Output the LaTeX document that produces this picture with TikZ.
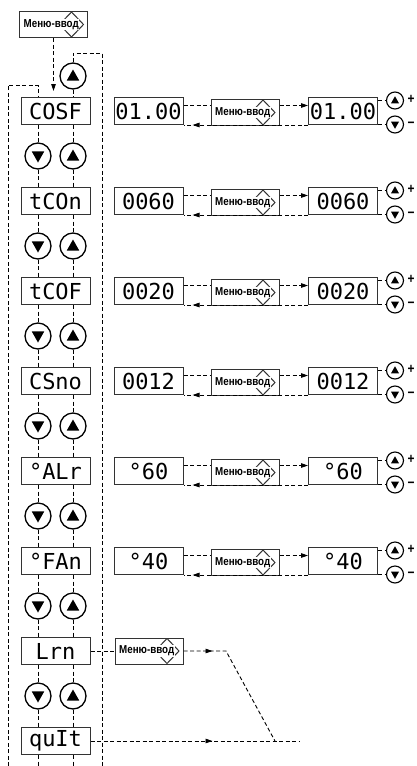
\documentclass[tikz,border=0pt]{standalone}
\usepackage{fontspec}
\usetikzlibrary{arrows.meta}
\usetikzlibrary{calc}
\usetikzlibrary{decorations.markings}
\newfontfamily\segfont{DejaVu Sans Mono}
\newfontfamily\keyfont[FakeStretch=0.85]{Liberation Sans}

\tikzset{
  link/.style={line width=0.9pt, dash pattern=on 4pt off 2.5pt},
  arr/.style={-{Triangle[length=7pt,width=4.5pt]}},
  midarrow/.style={postaction={decorate}, decoration={markings, mark=at position #1 with {\arrow{Triangle[length=7pt,width=4.5pt]}}}},
  disp/.style={draw=black!80, line width=1pt, minimum width=69pt, minimum height=27pt, inner sep=0pt,
    font=\segfont\fontsize{22}{22}\selectfont},
  menu/.style={draw=black!80, line width=1pt, minimum width=68pt, minimum height=26pt, inner sep=0pt,
    path picture={\draw[line width=1pt] ([xshift=-16pt,yshift=12.5pt]path picture bounding box.east)
      -- ([xshift=-4pt]path picture bounding box.east) -- ([xshift=-16pt,yshift=-12.5pt]path picture bounding box.east)
      -- ([xshift=-28pt]path picture bounding box.east) -- cycle;},
    label={[anchor=west, xshift=4pt, fill=white, inner sep=0.5pt, font=\keyfont\bfseries\fontsize{11.5}{12}\selectfont]west:Меню-ввод}},
  btnup/.style={circle, draw, line width=1.3pt, minimum size=2*#1, inner sep=0pt,
    path picture={\fill ([yshift=0.5*#1]path picture bounding box.center)
      -- ([xshift=-0.48*#1,yshift=-0.35*#1]path picture bounding box.center)
      -- ([xshift=0.48*#1,yshift=-0.35*#1]path picture bounding box.center) -- cycle;}},
  btndn/.style={circle, draw, line width=1.3pt, minimum size=2*#1, inner sep=0pt,
    path picture={\fill ([yshift=-0.5*#1]path picture bounding box.center)
      -- ([xshift=-0.48*#1,yshift=0.35*#1]path picture bounding box.center)
      -- ([xshift=0.48*#1,yshift=0.35*#1]path picture bounding box.center) -- cycle;}},
  pm/.style={inner sep=0pt, font=\keyfont\bfseries\fontsize{14}{14}\selectfont}
}

\begin{document}
\begin{tikzpicture}[x=1pt,y=-1pt]
\useasboundingbox (0,0) rectangle (417,766);

\node[menu] (enter) at (53.5,24.5) {};
\node[btnup=13pt] (up0) at (73,76) {};
\node[disp] (cosf) at (55.5,111) {COSF};
\node[disp] (tcon) at (55.5,201) {tCOn};
\node[disp] (tcof) at (55.5,291) {tCOF};
\node[disp] (csno) at (55.5,381) {CSno};
\node[disp] (alr) at (55.5,471) {°ALr};
\node[disp] (fan) at (55.5,561) {°FAn};
\node[disp] (lrn) at (55.5,651) {Lrn};
\node[disp] (quit) at (55.5,741) {quIt};

\foreach \pa/\pb/\k in {cosf/tcon/1, tcon/tcof/2, tcof/csno/3, csno/alr/4, alr/fan/5, fan/lrn/6, lrn/quit/7} {
  \node[btndn=13pt] (dn\k) at (38,{66+90*\k}) {};
  \node[btnup=13pt] (up\k) at (73,{66+90*\k}) {};
  \draw[link] (\pa.south -| dn\k) -- (dn\k) -- (\pb.north -| dn\k);
  \draw[link] (\pa.south -| up\k) -- (up\k) -- (\pb.north -| up\k);
}

\coordinate (loopL) at (8,766);
\coordinate (entryL) at (38,85);
\coordinate (turnR) at (73,53);
\coordinate (loopR) at (102,766);
\draw[link, arr, shorten >=6pt] (enter) -- (cosf.north -| enter);
\draw[link] (up0) -- (cosf.north -| up0);
\draw[link] (up0) -- (turnR) -| (loopR);
\draw[link] (loopL) |- (entryL) -- (cosf.north -| dn1);
\draw[link] (quit.south -| dn7) -- ++(0,12);
\draw[link] (quit.south -| up7) -- ++(0,12);

\foreach \k/\val in {0/01.00, 1/0060, 2/0020, 3/0012, 4/°60, 5/°40} {
  \node[disp] (a\k) at (148.5,{111+90*\k}) {\val};
  \node[menu] (m\k) at (245,{112.5+90*\k}) {};
  \node[disp] (b\k) at (343,{111+90*\k}) {\val};
  \node[btnup=8.5pt, line width=1.1pt] (p\k) at (395,{100.5+90*\k}) {};
  \node[btndn=8.5pt, line width=1.1pt] (q\k) at (395,{124.5+90*\k}) {};
  \node[pm] (ps\k) at (411,{99.5+90*\k}) {+};
  \node[pm] (ms\k) at (411,{125+90*\k}) {−};
  \coordinate (u\k) at ([yshift=5.5pt]a\k.east);
  \draw[link] (u\k) -- (u\k -| m\k.west);
  \draw[link, arr] (u\k -| m\k.east) -- (u\k -| b\k.west);
  \draw[link, midarrow=-9pt] (b\k.south west) -- (a\k.south east);
  \draw[link] (p\k -| b\k.east) -- (p\k);
  \draw[link] (q\k -| b\k.east) -- (q\k);
}

\node[menu] (m6) at (149,651) {};
\coordinate (bend) at (226,651);
\coordinate (join) at (275,741);
\coordinate (stop) at (299,741);
\draw[link] (lrn) -- (m6);
\draw[link, midarrow=29pt] (m6.east) -- (bend) -- (join);
\draw[link, midarrow=122pt] (quit.east) -- (stop);
\end{tikzpicture}
\end{document}
